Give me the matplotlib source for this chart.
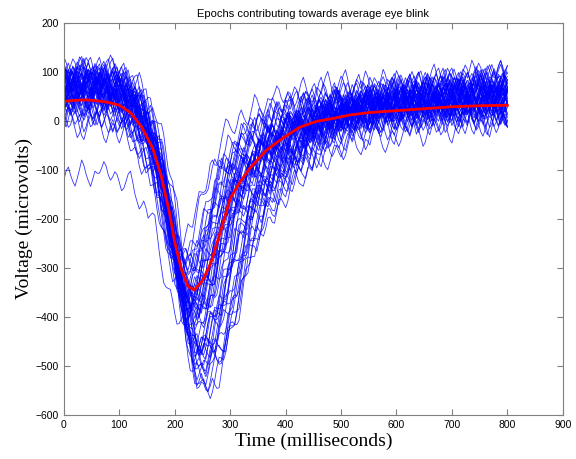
import matplotlib
matplotlib.use('Agg')
import matplotlib.pyplot as plt
import numpy as np

# Average eye blink (red)
avg_t = [0, 20, 40, 60, 80, 100, 120, 140, 160, 175, 190, 200, 212, 224, 235, 250,
         265, 280, 300, 317, 335, 365, 395, 425, 455, 485, 515, 550, 600, 650, 700,
         750, 800]
avg_v = [40, 42, 43, 41, 38, 32, 17, -12, -55, -110, -185, -248, -304, -338, -345, -326,
         -290, -235, -158, -126, -97, -60, -35, -13, -1, 5, 12, 17, 21, 25, 29,
         31, 32]

# Per-epoch estimates: latency shift (ms), depth scale, recovery speed,
# start / end offsets (uV)
shift = [-10, -5, -15, 0, 5, -2, -18, 10, 2, -7,
         -13, 15, 8, -4, -20, 20, 4, -8, -1, 12,
         -16, 1, 6, -6, 18, -3, -12, 9, 3, -9,
         14, 0, -14, 7, 22, -5, 11, -2, -17, 2,
         17, 5, -7, -1, 20, -4, -10, 4, 8, 1,
         -11, 13, -3, 6, -6]
scale = [1.0, 1.1, 0.9, 1.2, 1.35, 1.05, 0.85, 1.45, 1.25, 0.95,
         0.9, 1.55, 1.4, 1.1, 0.8, 1.62, 1.3, 1.0, 1.15, 1.5,
         0.88, 1.2, 1.35, 1.0, 1.58, 1.1, 0.92, 1.42, 1.28, 0.98,
         1.52, 1.18, 0.86, 1.38, 1.6, 1.05, 1.48, 1.12, 0.82, 1.22,
         1.55, 1.32, 0.96, 1.16, 1.45, 1.08, 0.9, 1.3, 1.4, 1.2,
         0.94, 1.5, 1.06, 1.36, 1.02]
recovery = [1.0, 0.95, 1.2, 0.9, 0.82, 1.05, 1.3, 0.75, 0.88, 1.15,
            1.25, 0.7, 0.78, 1.0, 1.4, 0.75, 0.9, 1.1, 0.95, 0.68,
            1.3, 0.88, 0.82, 1.0, 0.78, 1.05, 1.2, 0.75, 0.9, 1.1,
            0.7, 0.95, 1.1, 0.82, 0.68, 1.0, 0.76, 0.92, 1.35, 0.88,
            0.72, 0.85, 1.15, 0.95, 0.78, 1.05, 1.25, 0.88, 0.8, 0.94,
            1.2, 0.74, 1.0, 0.82, 1.1]
off_start = [10, 30, -20, 40, 0, 20, -10, 25, 45, -30,
             5, 15, 35, -5, 20, 0, 50, -15, 30, 10,
             -40, 25, 5, 55, 20, -25, 40, 0, 15, 35,
             -10, 45, -150, 10, 30, 20, -20, 5, 50, 25,
             -35, 15, 40, 0, 20, 30, -5, 45, 10, 25,
             -45, 35, 15, -10, 60]
off_end = [0, 20, -20, 30, 10, -10, 15, 40, 5, -25,
           25, 50, 0, 35, -15, 20, 45, -5, 10, 60,
           -30, 15, 30, 5, 40, -10, 20, 55, 0, 25,
           -20, 35, -20, 10, 65, 15, -5, 30, 45, 0,
           20, -15, 40, 10, 50, -25, 25, 5, 35, -10,
           15, 30, 0, 20, 45]

# EEG ripple riding on each epoch (uV, 4 ms samples)
wiggle = [0, 9, 21, 14, -2, -11, -4, 7, 3, -9, -22, -15, 1, 18, 27, 12, -5, -13, -20, -8,
          6, 2, -6, 10, 24, 33, 16, -3, -17, -25, -14, -1, 11, 5, -8, -19, -10, 4, 15, 8,
          -2, 13, 29, 19, 3, -12, -28, -21, -6, 9, 17, 6, -7, -3, 12, 22, 10, -9, -24, -31,
          -16, 2, 14, 4, -5, 8, 20, 26, 11, -4, -15, -9, 3, -2, -18, -26, -12, 5, 19, 31,
          23, 7, -6, -14, -5, 10, 16, 1, -11, -20, -7, 8, 25, 15, -1, -13, -23, -10, 4, 0]

TROUGH = 235
t = np.arange(0, 801, 4)
wig = np.tile(wiggle, 4)

fig = plt.figure(figsize=(5.76, 4.59), dpi=100)
ax = fig.add_axes([0.111, 0.096, 0.866, 0.854])

for i in range(len(shift)):
    tt = (t - shift[i]).astype(float)
    post = tt > TROUGH
    tt[post] = TROUGH + (tt[post] - TROUGH) * recovery[i]
    base = scale[i] * np.interp(tt, avg_t, avg_v)
    drift = off_start[i] + (off_end[i] - off_start[i]) * t / 800
    k = (i * 37) % len(wiggle)
    w = 1.15 * wig[k:k + len(t)] * (1 if i % 2 == 0 else -1)
    ax.plot(t, base + drift + w, color='#0000ff', lw=0.6, alpha=0.8)

ax.plot(avg_t, avg_v, color='red', lw=2)

ax.set_xlim(0, 900)
ax.set_ylim(-600, 200)
ax.set_xticks(range(0, 901, 100))
ax.set_yticks(range(-600, 201, 100))
ax.tick_params(direction='in', top=True, right=True, length=4, color='#808080',
               labelsize=7.5)
for lab in ax.get_xticklabels() + ax.get_yticklabels():
    lab.set_family('Liberation Sans')
for sp in ax.spines.values():
    sp.set_color('#808080')

ax.set_xlabel('Time (milliseconds)', family='Liberation Serif', fontsize=14, labelpad=2)
ax.set_ylabel('Voltage (microvolts)', family='Liberation Serif', fontsize=14, labelpad=2)
ax.set_title('Epochs contributing towards average eye blink', family='Liberation Sans',
             fontsize=8, pad=4)

plt.savefig('out.png', dpi=100)
